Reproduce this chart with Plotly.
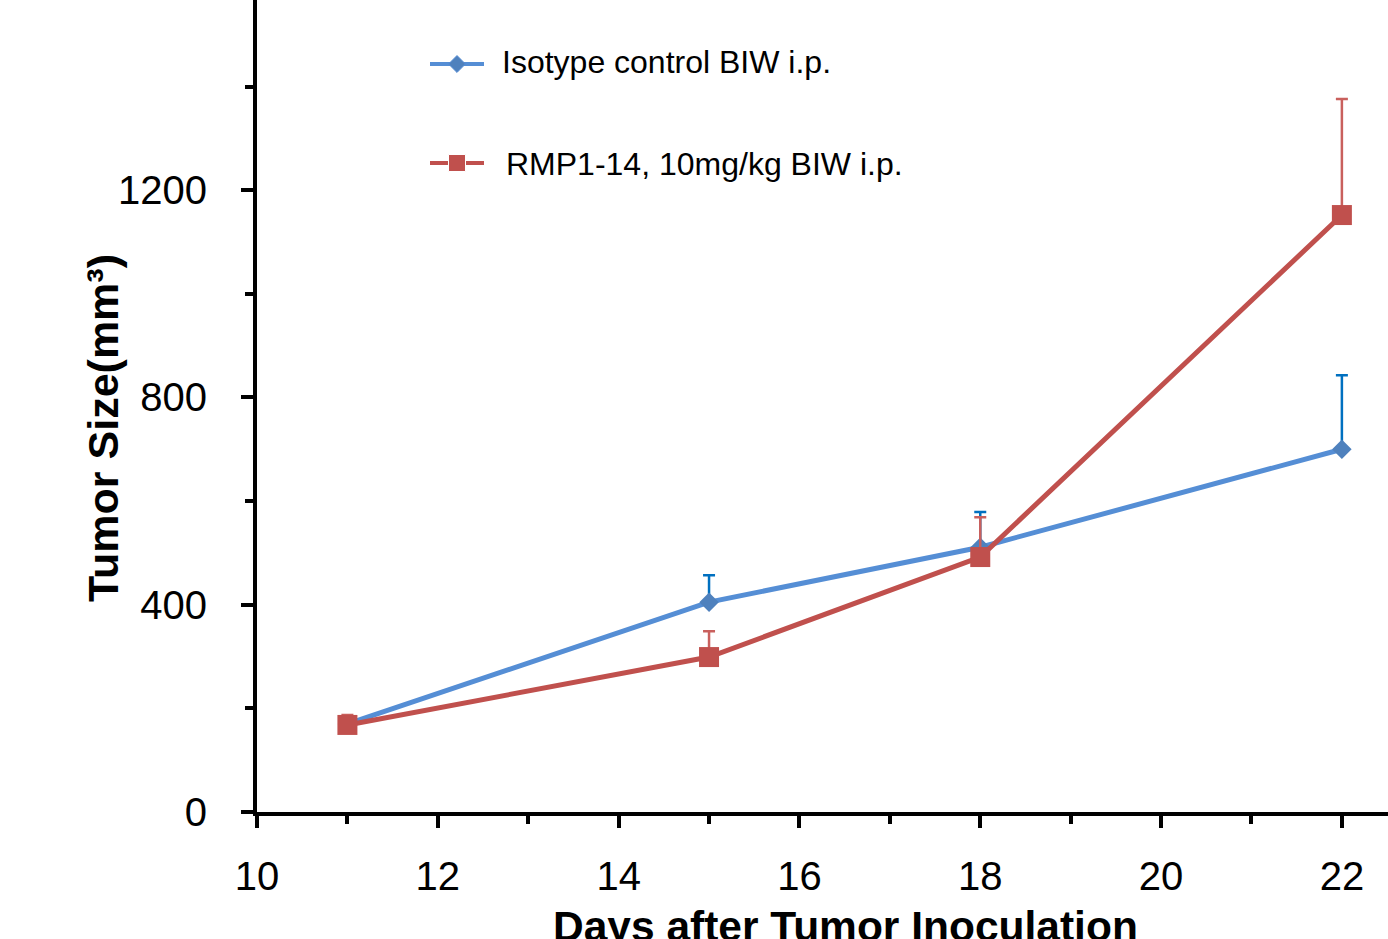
import plotly.graph_objects as go

# ---- data ----
days = [11, 15, 18, 22]
iso_mean = [170, 405, 511, 700]
iso_err = [14, 52, 68, 143]
rmp_mean = [168, 299, 492, 1152]
rmp_err = [19, 50, 77, 224]

iso_name = "Isotype control BIW i.p."
rmp_name = "RMP1-14, 10mg/kg BIW i.p."
x_title = "Days after Tumor Inoculation"
y_title = "Tumor Size(mm³)"

FONT = "Liberation Sans, Arial, sans-serif"
BLUE_LINE = "#558ED5"
BLUE_MARK = "#4F81BD"
BLUE_ERR = "#0070C0"
RED_LINE = "#C0504D"
RED_MARK = "#C0504D"
RED_ERR = "#C9605D"

fig = go.Figure()

fig.add_trace(go.Scatter(
    x=days, y=iso_mean, mode="lines+markers", name=iso_name,
    line=dict(color=BLUE_LINE, width=5),
    marker=dict(symbol="diamond", size=15, color=BLUE_MARK, opacity=1),
    error_y=dict(type="data", symmetric=False, array=iso_err, arrayminus=[0]*4,
                 color=BLUE_ERR, thickness=2.5, width=6),
    cliponaxis=False,
))
fig.add_trace(go.Scatter(
    x=days, y=rmp_mean, mode="lines+markers", name=rmp_name,
    line=dict(color=RED_LINE, width=5),
    marker=dict(symbol="square", size=20, color=RED_MARK, opacity=1),
    error_y=dict(type="data", symmetric=False, array=rmp_err, arrayminus=[0]*4,
                 color=RED_ERR, thickness=2.5, width=6),
    cliponaxis=False,
))

# ---- manual legend (symbols on an overlay axis in paper-like units) ----
leg_items = [
    (iso_name, (812 - 64) / 812, (812 - 62) / 812, BLUE_LINE, BLUE_MARK, "diamond", 13, (500 - 257) / 1131),
    (rmp_name, (812 - 163) / 812, (812 - 164) / 812, RED_LINE, RED_MARK, "square", 17, (504 - 257) / 1131),
]
for name, yy, ty, lc, mc, sym, sz, tx in leg_items:
    fig.add_trace(go.Scatter(
        x=[(430 - 257) / 1131, (457 - 257) / 1131, (484 - 257) / 1131], y=[yy, yy, yy],
        mode="lines+markers",
        xaxis="x2", yaxis="y2", showlegend=False, hoverinfo="skip",
        line=dict(color=lc, width=4),
        marker=dict(symbol=sym, size=[0, sz, 0], color=mc, opacity=1),
    ))
    fig.add_annotation(
        x=tx, y=ty, xref="paper", yref="paper", text=name, showarrow=False,
        xanchor="left", yanchor="middle", font=dict(size=32, color="black", family=FONT),
    )

# axis titles
fig.add_annotation(
    x=(845 - 257) / 1131, y=-(927 - 812) / 812, xref="paper", yref="paper",
    text="<b>" + x_title + "</b>", showarrow=False, xanchor="center", yanchor="middle",
    font=dict(size=42.5, color="black", family=FONT),
)
fig.add_annotation(
    x=(103 - 257) / 1131, y=(812 - 428) / 812, xref="paper", yref="paper",
    text="<b>" + y_title + "</b>", showarrow=False, textangle=-90,
    xanchor="center", yanchor="middle",
    font=dict(size=43, color="black", family=FONT),
)

fig.update_layout(
    width=1388, height=939,
    margin=dict(l=257, r=0, t=0, b=127),
    plot_bgcolor="white", paper_bgcolor="white",
    showlegend=False,
    font=dict(family=FONT, color="black"),
    xaxis=dict(
        range=[10, 22.51], dtick=2, tick0=10, showgrid=False, zeroline=False,
        showline=True, linecolor="black", linewidth=4,
        ticks="outside", ticklen=12, tickwidth=3.5, tickcolor="black",
        tickfont=dict(size=40, family=FONT, color="black"),
        ticklabelstandoff=14,
        minor=dict(dtick=1, tick0=10, ticks="outside", ticklen=8, tickwidth=3.5,
                   tickcolor="black", showgrid=False),
    ),
    yaxis=dict(
        range=[0, 1567], dtick=400, tick0=0, showgrid=False, zeroline=False,
        showline=True, linecolor="black", linewidth=4,
        ticks="outside", ticklen=12, tickwidth=3.5, tickcolor="black",
        tickfont=dict(size=40, family=FONT, color="black"),
        ticklabelstandoff=26,
        minor=dict(dtick=200, tick0=0, ticks="outside", ticklen=8, tickwidth=3.5,
                   tickcolor="black", showgrid=False),
    ),
    xaxis2=dict(range=[0, 1], domain=[0, 1], overlaying="x", visible=False, fixedrange=True),
    yaxis2=dict(range=[0, 1], domain=[0, 1], overlaying="y", visible=False, fixedrange=True),
)

fig.write_html("out.html")
